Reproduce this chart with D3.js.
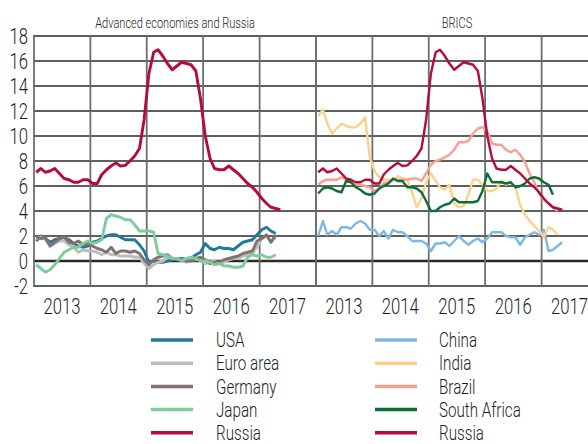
<!DOCTYPE html>
<html>
<head>
<meta charset="utf-8">
<script src="https://cdn.jsdelivr.net/npm/d3@7"></script>
<style>
  body { margin: 0; background: #fff; }
  text { font-family: Roboto, "Liberation Sans", sans-serif; font-weight: 300; fill: #1e1e1e; }
</style>
</head>
<body>
<div id="chart"></div>
<script>
// monthly values, Jan 2013 onwards
const years = [2013, 2014, 2015, 2016, 2017]
const yTicks = [-2, 0, 2, 4, 6, 8, 10, 12, 14, 16, 18]

const usa = [1.6, 2.0, 1.8, 1.5, 1.7, 1.8, 1.9, 1.7, 1.4, 1.2, 1.1, 1.2, 1.5, 1.6, 1.8, 2.0, 2.1, 2.1, 1.9, 1.7, 1.7, 1.7, 1.3, 0.8, -0.1, 0.0, -0.1, -0.1, 0.0, 0.1, 0.2, 0.2, 0.1, 0.2, 0.5, 0.7, 1.4, 1.0, 0.9, 1.1, 1.0, 1.0, 0.9, 1.2, 1.5, 1.6, 1.7, 2.1, 2.5, 2.7, 2.4, 2.2]
const euro = [1.8, 1.9, 1.7, 1.2, 1.4, 1.6, 1.6, 1.3, 1.1, 0.7, 0.9, 0.8, 0.8, 0.7, 0.5, 0.7, 0.5, 0.5, 0.4, 0.4, 0.4, 0.3, 0.3, -0.2, -0.6, -0.3, -0.1, 0.0, 0.3, 0.2, 0.2, 0.1, -0.1, 0.1, 0.1, 0.2, -0.2, -0.1, 0.0, -0.2, -0.1, 0.1, 0.2, 0.2, 0.4, 0.5, 0.6, 1.1, 1.8, 2.0, 1.5, 1.9]
const germany = [1.9, 1.8, 1.9, 1.2, 1.5, 1.8, 1.9, 1.5, 1.4, 1.6, 1.3, 1.4, 1.2, 1.0, 0.9, 0.7, 1.1, 0.6, 0.8, 0.8, 0.7, 0.8, 0.6, 0.1, -0.3, 0.1, 0.3, 0.4, 0.5, 0.2, 0.1, 0.1, 0.0, 0.0, 0.2, 0.3, 0.1, -0.2, -0.1, -0.1, 0.1, 0.2, 0.3, 0.4, 0.6, 0.7, 0.8, 1.6, 1.8, 2.1, 1.5, 2.1]
const japan = [-0.3, -0.6, -0.9, -0.7, -0.3, 0.2, 0.7, 0.9, 1.1, 1.1, 1.4, 1.6, 1.4, 1.5, 1.7, 3.4, 3.7, 3.6, 3.5, 3.3, 3.3, 2.9, 2.4, 2.4, 2.4, 2.3, 0.6, 0.5, 0.4, 0.2, 0.2, 0.0, 0.2, 0.3, 0.2, 0.0, 0.0, -0.1, -0.3, -0.2, -0.4, -0.4, -0.5, -0.5, -0.4, 0.3, 0.5, 0.4, 0.5, 0.3, 0.3, 0.5]
const russia = [7.1, 7.4, 7.1, 7.2, 7.4, 7.0, 6.6, 6.5, 6.3, 6.3, 6.5, 6.5, 6.2, 6.2, 6.9, 7.3, 7.6, 7.85, 7.6, 7.65, 8.0, 8.4, 9.0, 11.3, 15.0, 16.7, 16.9, 16.4, 15.8, 15.3, 15.6, 15.9, 15.8, 15.7, 15.2, 13.0, 10.0, 8.2, 7.4, 7.3, 7.3, 7.6, 7.3, 7.0, 6.6, 6.2, 5.9, 5.5, 5.0, 4.6, 4.3, 4.2, 4.1]
const china = [2.0, 3.2, 2.1, 2.4, 2.1, 2.7, 2.7, 2.6, 3.0, 3.2, 3.0, 2.5, 2.5, 2.0, 2.4, 1.8, 2.5, 2.3, 2.3, 2.0, 1.6, 1.6, 1.6, 1.4, 0.8, 1.4, 1.4, 1.5, 1.2, 1.6, 2.0, 1.6, 1.3, 1.6, 1.8, 1.5, 1.8, 2.3, 2.3, 2.3, 2.0, 1.9, 1.9, 1.3, 1.9, 2.1, 2.3, 2.1, 2.5, 0.8, 0.9, 1.2, 1.5]
const india = [11.6, 12.1, 11.0, 10.2, 10.6, 11.0, 10.8, 10.7, 10.7, 11.0, 11.5, 8.3, 7.2, 6.7, 6.5, 6.5, 6.4, 6.8, 6.6, 6.5, 5.5, 4.3, 5.0, 6.3, 7.0, 6.4, 5.9, 5.7, 6.1, 4.6, 4.3, 4.4, 5.3, 6.5, 6.5, 6.1, 5.6, 5.6, 5.8, 6.4, 6.1, 6.3, 5.9, 4.5, 3.7, 3.2, 2.8, 2.4, 1.9, 2.7, 2.5, 2.1]
const brazil = [6.1, 6.4, 6.5, 6.5, 6.5, 6.7, 6.5, 6.3, 6.1, 6.1, 6.0, 5.9, 5.6, 5.8, 6.2, 6.3, 6.5, 6.5, 6.5, 6.5, 6.6, 6.6, 6.4, 7.0, 7.7, 8.0, 8.1, 8.3, 8.5, 8.9, 9.5, 9.5, 9.6, 10.2, 10.6, 10.7, 10.4, 9.4, 9.3, 9.3, 8.9, 8.7, 8.9, 8.5, 7.9, 7.0, 6.3, 5.4, 4.9, 4.6, 4.3, 4.0]
const southAfrica = [5.4, 5.8, 5.9, 5.8, 5.6, 5.5, 6.4, 6.3, 5.9, 5.7, 5.4, 5.3, 5.4, 5.8, 6.0, 6.2, 6.6, 6.4, 6.4, 5.9, 5.9, 5.8, 5.5, 4.8, 4.0, 4.0, 4.3, 4.5, 4.6, 5.0, 4.7, 4.7, 4.7, 4.7, 4.8, 5.6, 7.0, 6.3, 6.3, 6.3, 6.2, 6.3, 5.9, 6.0, 6.2, 6.6, 6.7, 6.6, 6.3, 6.1, 5.3]

const leftSeries = [
  { name: "USA", values: usa, color: "#23789e" },
  { name: "Euro area", values: euro, color: "#bdbdbd" },
  { name: "Germany", values: germany, color: "#827171" },
  { name: "Japan", values: japan, color: "#80cb9b" },
  { name: "Russia", values: russia, color: "#b20d3b" }
]
const rightSeries = [
  { name: "China", values: china, color: "#7db7e3" },
  { name: "India", values: india, color: "#fbd28c" },
  { name: "Brazil", values: brazil, color: "#f7a090" },
  { name: "South Africa", values: southAfrica, color: "#0b6f33" },
  { name: "Russia", values: russia, color: "#b20d3b" }
]

const width = 588, height = 444
const colW = 56.4
const plotTop = 36, plotBottom = 286
const squeeze = 0.76  // the original uses a condensed face

const svg = d3.select("#chart").append("svg")
  .attr("width", width)
  .attr("height", height)

const y = d3.scaleLinear().domain([-2, 18]).range([plotBottom, plotTop])

const panels = [
  { x0: 34, title: "Advanced economies and Russia", series: leftSeries, lw: 2.9 },
  { x0: 316, title: "BRICS", series: rightSeries, lw: 2.4 }
]

panels.forEach(p => {
  p.x = d3.scaleTime()
    .domain([new Date(2013, 0, 1), new Date(2018, 0, 1)])
    .range([p.x0, p.x0 + colW * 5])
})

// condensed text: a group positioned at (x,y) and squeezed horizontally
function label(parent, x, yy, txt, size, anchor, dy) {
  parent.append("g")
    .attr("transform", "translate(" + x + "," + yy + ") scale(" + squeeze + ",1)")
    .append("text")
    .attr("text-anchor", anchor)
    .attr("dy", dy || 0)
    .attr("font-size", size)
    .text(txt)
}

// horizontal grid
svg.append("g")
  .selectAll("line")
  .data(yTicks)
  .enter().append("line")
  .attr("x1", 33)
  .attr("x2", width)
  .attr("y1", d => y(d))
  .attr("y2", d => y(d))
  .attr("stroke", "#2a2a2a")
  .attr("stroke-width", d => d === 0 ? 2.4 : 1.4)

// vertical grid (year boundaries)
panels.forEach(p => {
  svg.append("g")
    .selectAll("line")
    .data(d3.range(2013, 2019))
    .enter().append("line")
    .attr("x1", d => p.x(new Date(d, 0, 1)))
    .attr("x2", d => p.x(new Date(d, 0, 1)))
    .attr("y1", plotTop)
    .attr("y2", plotBottom)
    .attr("stroke", "#6e6e6e")
    .attr("stroke-width", 1.8)
})

// y labels
const yLab = svg.append("g")
yTicks.forEach(d => label(yLab, 28, y(d), d, 22, "end", "0.36em"))

panels.forEach(p => {
  // year labels
  const xl = svg.append("g")
  years.forEach(d => label(xl, p.x(new Date(d, 6, 1)), 314, d, 22, "middle"))

  label(svg, p.x0 + colW * 2.5, 28, p.title, 14.5, "middle")

  const line = d3.line()
    .x((d, i) => p.x(new Date(2013, i, 15)))
    .y(d => y(d))

  svg.append("g")
    .selectAll("path")
    .data(p.series)
    .enter().append("path")
    .attr("fill", "none")
    .attr("stroke", d => d.color)
    .attr("stroke-width", p.lw)
    .attr("stroke-linejoin", "round")
    .attr("d", d => line(d.values))
})

// legend
const legendCols = [
  { lx: 151, tx: 216, series: leftSeries },
  { lx: 375, tx: 439, series: rightSeries }
]
legendCols.forEach(c => {
  const g = svg.append("g")
  c.series.forEach((d, i) => {
    const ly = 340 + i * 23.2
    g.append("line")
      .attr("x1", c.lx)
      .attr("x2", c.lx + 42)
      .attr("y1", ly)
      .attr("y2", ly)
      .attr("stroke", d.color)
      .attr("stroke-width", 3.5)
    label(g, c.tx, ly, d.name, 20, "start", "0.36em")
  })
})
</script>
</body>
</html>
